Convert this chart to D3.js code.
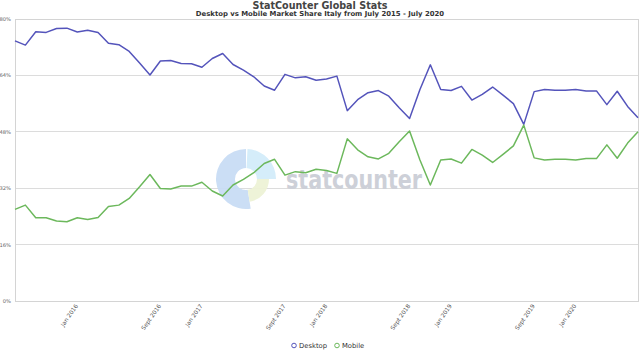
<!DOCTYPE html>
<html><head><meta charset="utf-8">
<script src="https://cdn.jsdelivr.net/npm/d3@7"></script>
<style>body{margin:0;background:#fff}svg{display:block}</style>
</head><body>
<svg id="c" width="640" height="360"></svg>
<script>
const desktop = [73.8,72.6,76.4,76.2,77.3,77.4,76.3,76.8,76.2,73.1,72.7,70.8,67.5,64.1,68.1,68.2,67.4,67.3,66.3,68.8,70.2,67.1,65.5,63.6,61.0,59.8,64.3,63.3,63.6,62.6,63.0,63.8,54.0,57.1,59.1,59.7,58.1,54.8,51.8,60.0,67.0,60.0,59.7,60.9,57.0,58.6,60.7,58.4,56.0,50.1,59.4,60.0,59.8,59.8,60.0,59.6,59.6,55.7,59.5,55.2,52.0];
const mobile  = [26.0,27.2,23.6,23.6,22.7,22.5,23.6,23.1,23.7,26.8,27.2,29.1,32.4,35.9,31.9,31.8,32.6,32.6,33.7,31.2,29.8,32.9,34.5,36.4,39.0,40.2,35.7,36.7,36.4,37.4,37.0,36.2,46.0,42.9,40.9,40.3,41.9,45.2,48.2,40.0,32.9,40.0,40.3,39.1,43.0,41.4,39.3,41.6,44.0,49.9,40.6,40.0,40.2,40.2,40.0,40.4,40.4,44.3,40.5,44.8,48.0];
const yTicks = [0,16,32,48,64,80];
const xTickLabels = ["Jan 2016","Sept 2016","Jan 2017","Sept 2017","Jan 2018","Sept 2018","Jan 2019","Sept 2019","Jan 2020"];
const xTickIndex = [6,14,18,26,30,38,42,50,54];
const seriesNames = ["Desktop","Mobile"];
const colors = ["#5454bb","#6cb85c"];
const title = "StatCounter Global Stats";
const subtitle = "Desktop vs Mobile Market Share Italy from July 2015 - July 2020";

const svg = d3.select("#c");
const L = 15, R = 638, T = 19, B = 301;
const x = d3.scaleLinear().domain([0, desktop.length-1]).range([L, R]);
const y = d3.scaleLinear().domain([0, 80]).range([B, T]);
const font = "DejaVu Sans, Verdana, sans-serif";

svg.append("text").attr("x",320).attr("y",9).attr("text-anchor","middle")
  .attr("font-family",font).attr("font-size",9.6).attr("font-weight","bold").attr("fill","#444").text(title);
svg.append("text").attr("x",320).attr("y",16.3).attr("text-anchor","middle")
  .attr("font-family",font).attr("font-size",6.9).attr("font-weight","bold").attr("fill","#333").text(subtitle);

// gridlines
const gy = svg.append("g");
gy.selectAll("line").data(yTicks).join("line")
  .attr("x1",L).attr("x2",R).attr("y1",d=>y(d)).attr("y2",d=>y(d))
  .attr("stroke","#dcdcdc").attr("stroke-width",1).attr("shape-rendering","crispEdges");
gy.selectAll("text").data(yTicks).join("text")
  .attr("x",11).attr("y",d=>y(d)+2).attr("text-anchor","end")
  .attr("font-family",font).attr("font-size",5.2).attr("fill","#666").text(d=>d+"%");
// border
svg.append("rect").attr("x",L).attr("y",T).attr("width",R-L).attr("height",B-T)
  .attr("fill","none").attr("stroke","#d4d4d4").attr("shape-rendering","crispEdges");

// watermark logo
const logo = svg.append("g").attr("transform","translate(246,179)").attr("opacity",0.95);
const arc = d3.arc();
logo.append("path").attr("d",arc({innerRadius:11,outerRadius:30,startAngle:Math.PI*0.95,endAngle:Math.PI*2.0})).attr("fill","#c9ddf5");
logo.append("path").attr("d",arc({innerRadius:11,outerRadius:30,startAngle:0.05,endAngle:Math.PI*0.5})).attr("fill","#d3edfa");
logo.append("path").attr("d",arc({innerRadius:11,outerRadius:23,startAngle:Math.PI*0.5,endAngle:Math.PI*0.95})).attr("fill","#eef3d6");
svg.append("text").attr("x",286).attr("y",188.5).attr("font-family","DejaVu Sans, sans-serif")
  .attr("font-size",27).attr("font-weight","bold").attr("fill","#cdd0d8").attr("textLength",136)
  .attr("lengthAdjust","spacingAndGlyphs").text("statcounter");

// x tick labels
const gx = svg.append("g");
xTickIndex.forEach((idx,i)=>{
  gx.append("text").attr("transform",`translate(${x(idx)+1},${B+5}) rotate(-55)`)
    .attr("text-anchor","end").attr("font-family",font).attr("font-size",5.8).attr("fill","#555")
    .text(xTickLabels[i]);
});

// lines
const line = d3.line().x((d,i)=>x(i)).y(d=>y(d));
[desktop, mobile].forEach((s,k)=>{
  svg.append("path").datum(s).attr("d",line).attr("fill","none")
    .attr("stroke",colors[k]).attr("stroke-width",1.5).attr("stroke-linejoin","round");
});

// legend
const legX = [294, 337];
seriesNames.forEach((n,k)=>{
  svg.append("circle").attr("cx",legX[k]).attr("cy",345.5).attr("r",2.3)
    .attr("fill","#fff").attr("stroke",colors[k]).attr("stroke-width",1);
  svg.append("text").attr("x",legX[k]+5).attr("y",348).attr("font-family",font)
    .attr("font-size",6.8).attr("fill","#333").text(n);
});
</script>
</body></html>
